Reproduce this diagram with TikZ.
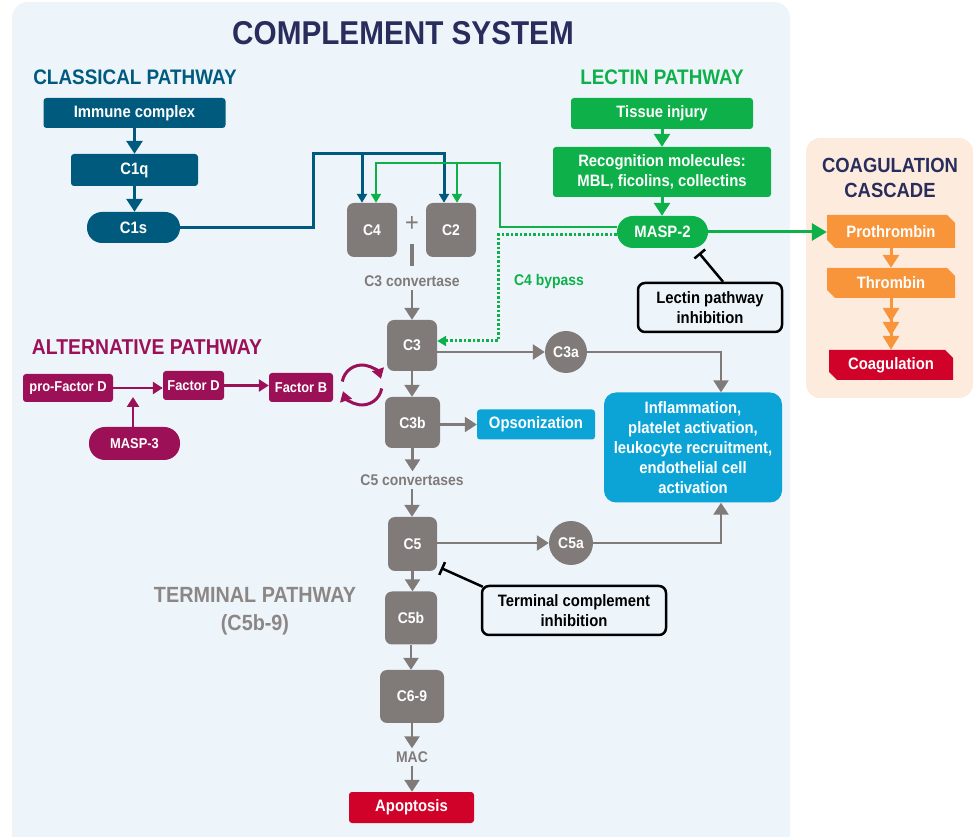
\documentclass[tikz,border=0pt]{standalone}
\usepackage{fontspec}
\setmainfont{Liberation Sans}[FakeStretch=0.9]
\usepackage{tikz}
\usetikzlibrary{arrows.meta,shapes.misc,calc}

\begin{document}
\begin{tikzpicture}[x=1pt,y=1pt,
  head/.style={inner sep=0pt,font=\bfseries\fontsize{21}{25}\selectfont,align=center},
  cbox/.style={inner sep=0pt,text=white,rounded corners=3pt,align=center,font=\bfseries\fontsize{16.5}{20}\selectfont},
  clsbox/.style={cbox,fill=clsColor},
  lecbox/.style={cbox,fill=lecColor},
  altbox/.style={cbox,fill=altColor,font=\bfseries\fontsize{14.3}{17}\selectfont},
  gbox/.style={cbox,fill=grayColor,rounded corners=7pt,font=\bfseries\fontsize{15.5}{18}\selectfont},
  gdisc/.style={gbox,circle},
  gtext/.style={inner sep=3pt,text=grayColor,font=\bfseries\fontsize{15.5}{18}\selectfont},
  coagbox/.style={cbox,rounded corners=0pt,chamfered rectangle,chamfered rectangle corners={north east,south west},chamfered rectangle xsep=4pt,chamfered rectangle ysep=4pt},
  inhbox/.style={draw=black,line width=2.5pt,fill=bgColor,rounded corners=7pt,align=center,inner sep=0pt,font=\bfseries\fontsize{16.5}{20}\selectfont},
  clsline/.style={draw=clsColor,line width=3pt},
  lecline/.style={draw=lecColor,line width=2.5pt},
  altline/.style={draw=altColor,line width=2.5pt},
  grayline/.style={draw=grayColor,line width=2.5pt},
  orangeline/.style={draw=orangeColor,line width=3pt},
  inhline/.style={draw=black,line width=2.5pt,-{Bar[width=14pt]}},
  bigtip/.style={-{Triangle[width=16pt,length=13pt]}},
  smalltip/.style={-{Triangle[width=10pt,length=9pt]}},
  gtip/.style={-{Triangle[width=15pt,length=12pt]}},
  atip/.style={-{Triangle[width=12pt,length=10pt]}}]
\definecolor{bgColor}{RGB}{237,245,251}
\definecolor{peachColor}{RGB}{253,235,222}
\definecolor{navyColor}{RGB}{40,45,92}
\definecolor{clsColor}{RGB}{0,90,126}
\definecolor{lecColor}{RGB}{14,176,74}
\definecolor{altColor}{RGB}{155,16,87}
\definecolor{grayColor}{RGB}{128,123,121}
\definecolor{termColor}{RGB}{140,135,133}
\definecolor{cyanColor}{RGB}{12,164,214}
\definecolor{orangeColor}{RGB}{248,148,58}
\definecolor{redColor}{RGB}{208,2,42}

\path[use as bounding box] (0,0) rectangle (975,836);
\path[fill=bgColor,rounded corners=16pt] (12,-20) rectangle (790,834);
\path[fill=peachColor,rounded corners=14pt] (806,438) rectangle (973,698);

\node[head,text=navyColor,font=\bfseries\fontsize{33}{38}\selectfont] (title) at (403,803) {COMPLEMENT SYSTEM};
\node[head,text=clsColor] (clsname) at (135,759) {CLASSICAL PATHWAY};
\node[head,text=lecColor] (lecname) at (662,759) {LECTIN PATHWAY};
\node[head,text=altColor,font=\bfseries\fontsize{21.5}{25}\selectfont] (altname) at (147,489) {ALTERNATIVE PATHWAY};
\node[head,text=navyColor,font=\bfseries\fontsize{20.5}{25}\selectfont] (coagname) at (890,658) {COAGULATION\\CASCADE};
\node[head,text=termColor,font=\bfseries\fontsize{22}{28}\selectfont] (termname) at (255,225) {TERMINAL PATHWAY\\(C5b-9)};

\node[clsbox,minimum width=182pt,minimum height=30pt] (immune) at (134.5,723) {Immune complex};
\node[clsbox,minimum width=127pt,minimum height=32pt] (c1q) at (134.5,666) {C1q};
\node[clsbox,rounded corners=15pt,minimum width=93pt,minimum height=31pt] (c1s) at (133.5,608.5) {C1s};

\node[lecbox,minimum width=182pt,minimum height=31pt] (tissue) at (662,722.5) {Tissue injury};
\node[lecbox,minimum width=218pt,minimum height=50pt] (recog) at (662,664) {Recognition molecules:\\MBL, ficolins, collectins};
\node[lecbox,rounded corners=16pt,minimum width=91pt,minimum height=32pt] (masp2) at (662.5,604) {MASP-2};
\node[inner sep=0pt,text=lecColor,font=\bfseries\fontsize{15.5}{18}\selectfont] (bypass) at (549,555) {C4 bypass};
\node[inhbox,minimum width=144pt,minimum height=49pt] (lecinh) at (710,528.5) {Lectin pathway\\inhibition};

\node[altbox,minimum width=90pt,minimum height=28pt] (profd) at (68,448) {pro-Factor D};
\node[altbox,minimum width=61pt,minimum height=29pt] (fd) at (193.5,450.5) {Factor D};
\node[altbox,minimum width=64pt,minimum height=29pt] (fb) at (301,448.5) {Factor B};
\node[altbox,rounded corners=16pt,minimum width=91pt,minimum height=33pt] (masp3) at (134.5,392.5) {MASP-3};

\node[gbox,minimum width=50pt,minimum height=54pt] (c4) at (372,606) {C4};
\node[gbox,minimum width=50pt,minimum height=54pt] (c2) at (451,606) {C2};
\node[inner sep=0pt,text=grayColor,font=\fontsize{26}{26}\selectfont] (plus) at (412,612) {+};
\node[gtext] (conv3) at (412,555) {C3 convertase};
\node[gbox,minimum width=50pt,minimum height=51pt] (c3) at (412,490.5) {C3};
\node[gdisc,minimum size=42pt] (c3a) at (566,484) {C3a};
\node[gbox,minimum width=55pt,minimum height=51pt] (c3b) at (412.5,413.5) {C3b};
\node[cbox,fill=cyanColor,minimum width=118pt,minimum height=30pt] (opson) at (536,411.5) {Opsonization};
\node[cbox,fill=cyanColor,rounded corners=12pt,minimum width=178pt,minimum height=110pt] (inflam) at (693,388.5) {Inflammation,\\platelet activation,\\leukocyte recruitment,\\endothelial cell\\activation};
\node[gtext] (conv5) at (412,356) {C5 convertases};
\node[gbox,minimum width=49pt,minimum height=54pt] (c5) at (412.5,292) {C5};
\node[gdisc,minimum size=44pt] (c5a) at (571,293) {C5a};
\node[inhbox,minimum width=184pt,minimum height=49pt] (terminh) at (574,225.5) {Terminal complement\\inhibition};
\node[gbox,minimum width=52pt,minimum height=53pt] (c5b) at (411,218) {C5b};
\node[gbox,minimum width=64pt,minimum height=53pt] (c69) at (412,139.5) {C6-9};
\node[gtext] (mac) at (412,79) {MAC};
\node[cbox,fill=redColor,minimum width=125pt,minimum height=31pt] (apopt) at (411.5,28.5) {Apoptosis};

\node[coagbox,fill=orangeColor,minimum width=128pt,minimum height=33pt] (prothr) at (891,604.5) {Prothrombin};
\node[coagbox,fill=orangeColor,minimum width=128pt,minimum height=30pt] (thromb) at (891,553) {Thrombin};
\node[coagbox,fill=redColor,minimum width=124pt,minimum height=30pt] (coagul) at (891,471) {Coagulation};

\draw[clsline,bigtip] (immune.south) -- (immune.south |- c1q.north);
\draw[clsline,bigtip] (c1q.south) -- (c1q.south |- c1s.north);
\coordinate (clsup) at (313,682);
\draw[clsline,smalltip] (c1s.east) -| (clsup) -| ([xshift=-7pt]c2.north);
\draw[clsline,smalltip] ([xshift=-10pt]c4.north |- clsup) -- ([xshift=-10pt]c4.north);

\coordinate (lecup) at (500,673);
\draw[lecline,smalltip] ([yshift=5pt]masp2.west) -| (lecup) -| ([xshift=4pt]c4.north);
\draw[lecline,smalltip] ([xshift=6pt]c2.north |- lecup) -- ([xshift=6pt]c2.north);
\coordinate (bypassturn) at (498,495);
\draw[lecline,line width=3pt,dash pattern=on 2.5pt off 2pt,smalltip] ([yshift=-3pt]masp2.west) -| (bypassturn) -- (bypassturn -| c3.east);
\draw[lecline,line width=3pt,bigtip] (tissue.south) -- (tissue.south |- recog.north);
\draw[lecline,line width=3pt,bigtip] (recog.south) -- (recog.south |- masp2.north);
\draw[lecline,line width=3pt,-{Triangle[width=17pt,length=15pt]}] (masp2.east) -- (masp2.east -| prothr.west);

\draw[orangeline,bigtip] (prothr.south) -- (prothr.south |- thromb.north);
\draw[orangeline,-{Triangle[width=16pt,length=14pt]Triangle[width=16pt,length=14pt]Triangle[width=16pt,length=14pt]}] (thromb.south) -- (thromb.south |- coagul.north);

\draw[altline,atip] (profd.east) -- (profd.east -| fd.west);
\draw[altline,atip] (fd.east) -- (fd.east -| fb.west);
\coordinate (altjoin) at (133,439);
\draw[altline,atip] (masp3.north -| altjoin) -- (altjoin);
\coordinate (cyc) at (362,451);
\draw[altline,line width=3pt,atip] ([shift={(170:20)}]cyc) arc[start angle=170,end angle=18,radius=20];
\draw[altline,line width=3pt,atip] ([shift={(-10:20)}]cyc) arc[start angle=-10,end angle=-162,radius=20];

\draw[grayColor,line width=4pt] (412,592) -- (412,570);
\draw[grayline,gtip] (conv3.south) -- (conv3.south |- c3.north);
\draw[grayline,gtip] (c3.south) -- (c3.south |- c3b.north);
\draw[grayline,gtip] (c3b.south) -- (c3b.south |- conv5.north);
\draw[grayline,gtip] (conv5.south) -- (conv5.south |- c5.north);
\draw[grayline,gtip] (c5.south) -- (c5.south |- c5b.north);
\draw[grayline,gtip] (c5b.south) -- (c5b.south |- c69.north);
\draw[grayline,gtip] (c69.south) -- (c69.south |- mac.north);
\draw[grayline,gtip] (mac.south) -- (mac.south |- apopt.north);
\draw[grayline,gtip] (c3.east |- c3a) -- (c3a.west);
\draw[grayline,gtip] (c3a.east) -| ([xshift=28pt]inflam.north);
\draw[grayline,gtip] (c3b.east |- opson) -- (opson.west);
\draw[grayline,gtip] (c5.east |- c5a) -- (c5a.west);
\draw[grayline,gtip] (c5a.east) -| ([xshift=28pt]inflam.south);

\coordinate (lecstop) at (699,583);
\draw[inhline] ([xshift=13pt]lecinh.north) -- (lecstop);
\coordinate (termstop) at (441,268);
\draw[inhline] ([shift={(2pt,-2pt)}]terminh.north west) -- (termstop);
\end{tikzpicture}
\end{document}
